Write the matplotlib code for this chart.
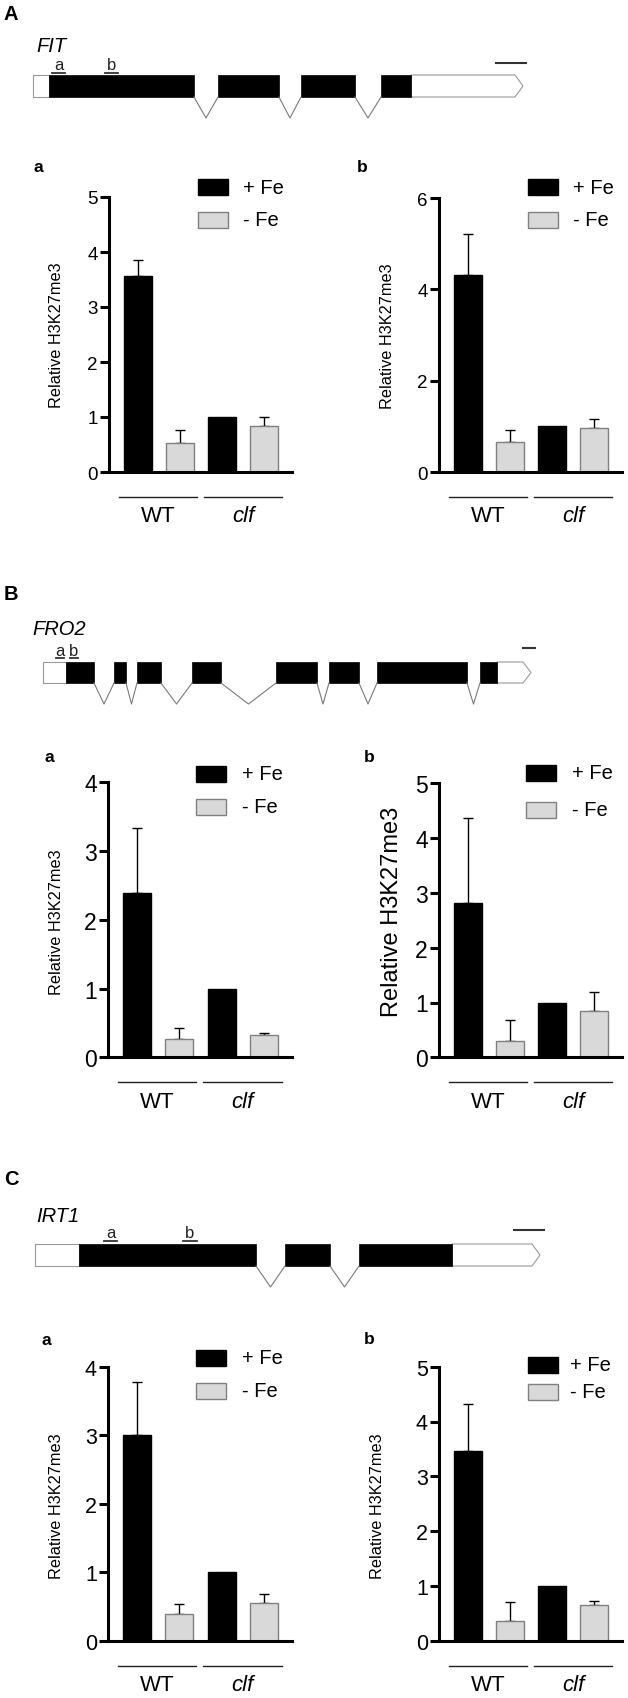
import matplotlib
matplotlib.use("Agg")
import matplotlib.pyplot as plt
from matplotlib.patches import Rectangle, Polygon
from matplotlib import transforms
import numpy as np

plt.rcParams['font.family'] = ['Liberation Sans', 'DejaVu Sans']

W, H = 628, 1699

groups = ['WT', 'clf']
conditions = ['+ Fe', '- Fe']

# relative H3K27me3, order: WT +Fe, WT -Fe, clf +Fe, clf -Fe
fit_a = [3.57, 0.52, 1.0, 0.84]
fit_a_err = [0.28, 0.25, 0.0, 0.16]
fit_b = [4.32, 0.65, 1.0, 0.97]
fit_b_err = [0.89, 0.26, 0.0, 0.20]
fro2_a = [2.39, 0.27, 1.0, 0.32]
fro2_a_err = [0.95, 0.15, 0.0, 0.04]
fro2_b = [2.81, 0.30, 1.0, 0.85]
fro2_b_err = [1.56, 0.38, 0.0, 0.35]
irt1_a = [3.00, 0.39, 1.0, 0.55]
irt1_a_err = [0.78, 0.15, 0.0, 0.13]
irt1_b = [3.46, 0.36, 1.0, 0.65]
irt1_b_err = [0.86, 0.35, 0.0, 0.07]

# gene models (5'UTR, coding exons, 3'UTR, primer a, primer b)
fit_utr5 = (33, 49)
fit_exons = [(49, 194), (218, 279), (301, 355), (381, 411)]
fit_utr3 = (411, 523)
fit_primers = [(52, 65), (105, 118)]

fro2_utr5 = (43, 66)
fro2_exons = [(66, 94), (114, 126), (137, 161), (192, 221), (276, 317),
              (329, 359), (377, 467), (480, 497)]
fro2_utr3 = (497, 531)
fro2_primers = [(56, 64), (70, 78)]

irt1_utr5 = (35, 79)
irt1_exons = [(79, 256), (285, 330), (359, 452)]
irt1_utr3 = (452, 540)
irt1_primers = [(104, 117), (183, 197)]

fig = plt.figure(figsize=(W / 100, H / 100), dpi=100)
ov = fig.add_axes([0, 0, 1, 1])
ov.set_xlim(0, W)
ov.set_ylim(H, 0)
ov.axis('off')

grey_edge = '#9a9a9a'
scale_y_of = {'A': 64, 'B': 649, 'C': 1231}


def draw_gene(letter, ly, name, nx, ny, utr5, exons, utr3, primers, y0, y1, vy, lab_y, ul_y, scale):
    ov.text(4, ly, letter, fontsize=14.5, fontweight='bold', va='center', ha='left')
    ov.text(nx, ny, name, fontsize=14.5, style='italic', va='center', ha='left')
    ov.add_patch(Rectangle((utr5[0], y0), utr5[1] - utr5[0], y1 - y0,
                           fc='white', ec=grey_edge, lw=0.8))
    tip = 8
    ov.add_patch(Polygon([(utr3[0], y0), (utr3[1] - tip, y0), (utr3[1], (y0 + y1) / 2),
                          (utr3[1] - tip, y1), (utr3[0], y1)],
                         closed=True, fc='white', ec=grey_edge, lw=0.8))
    for s, e in exons:
        ov.add_patch(Rectangle((s, y0), e - s, y1 - y0, fc='black', ec='black', lw=0.5))
    for (s0, e0), (s1, e1) in zip(exons[:-1], exons[1:]):
        ov.plot([e0, (e0 + s1) / 2, s1], [y1, vy, y1], color='#7a7a7a', lw=0.8)
    for (s, e), lab in zip(primers, ['a', 'b']):
        ov.plot([s, e], [ul_y, ul_y], color='#333333', lw=1.3)
        ov.text((s + e) / 2, lab_y, lab, fontsize=12, ha='center', va='baseline', color='#222222')
    ov.plot(scale, [scale_y_of[letter]] * 2, color='#333333', lw=1.5)


draw_gene('A', 14, 'FIT', 36, 46, fit_utr5, fit_exons, fit_utr3, fit_primers,
          76, 98, 119, 70.5, 73.5, [496, 526])
draw_gene('B', 595, 'FRO2', 32, 630, fro2_utr5, fro2_exons, fro2_utr3, fro2_primers,
          663, 684, 705, 656, 659, [523, 535])
draw_gene('C', 1180, 'IRT1', 36, 1217, irt1_utr5, irt1_exons, irt1_utr3, irt1_primers,
          1245, 1267, 1288, 1238, 1242, [514, 544])

bar_colors = ['black', '#d9d9d9', 'black', '#d9d9d9']
edge_colors = ['black', '#808080', 'black', '#808080']


def bar_panel(vals, errs, left, right, top, zero, ymax, ystep, tick_fs,
              letter, letter_xy, ylab_xy, ylab_fs, leg_x, leg_y, leg_tx):
    ax = fig.add_axes([left / W, 1 - zero / H, (right - left) / W, (zero - top) / H])
    x = np.arange(len(vals))
    vals = np.array(vals)
    errs = np.array(errs)
    ax.bar(x, vals, width=0.667, color=bar_colors, edgecolor=edge_colors, linewidth=1, zorder=2)
    m = errs > 0
    ax.errorbar(x[m], vals[m], yerr=[np.zeros(m.sum()), errs[m]], fmt='none',
                ecolor='black', elinewidth=1, capsize=3.6, capthick=1, zorder=1)
    ax.set_xlim(-0.69, 3.667)
    ax.set_ylim(0, ymax)
    ticks = np.arange(0, ymax + 0.01, ystep)
    ax.set_yticks(ticks)
    ax.set_yticklabels([str(int(v)) for v in ticks])
    ax.set_xticks([])
    for sp in ['top', 'right']:
        ax.spines[sp].set_visible(False)
    for sp in ['left', 'bottom']:
        ax.spines[sp].set_linewidth(2.2)
    ax.tick_params(axis='y', length=6.5, width=2.2, labelsize=tick_fs, pad=1.5)
    ax.patch.set_alpha(0)

    tr_line = transforms.offset_copy(ax.get_xaxis_transform(), fig=fig, y=-25, units='dots')
    tr_text = transforms.offset_copy(ax.get_xaxis_transform(), fig=fig, y=-44, units='dots')
    for (s, e), g in zip([(-0.45, 1.40), (1.57, 3.43)], groups):
        ax.plot([s, e], [0, 0], transform=tr_line, color='#222222', lw=1, clip_on=False)
        ax.text((s + e) / 2, 0, g, transform=tr_text, ha='center', va='center',
                fontsize=16, style='italic' if g == 'clf' else 'normal')

    ov.text(letter_xy[0], letter_xy[1], letter, fontsize=12.5, fontweight='bold',
            ha='center', va='center')
    ov.text(ylab_xy[0], ylab_xy[1], 'Relative H3K27me3', fontsize=ylab_fs,
            rotation=90, ha='center', va='center')
    for i, (c, ec, lab) in enumerate(zip(['black', '#d9d9d9'], ['black', '#808080'], conditions)):
        by = leg_y[i]
        ov.add_patch(Rectangle((leg_x, by), 30, 16, fc=c, ec=ec, lw=1))
        ov.text(leg_tx, by + 8, lab, fontsize=14.5, ha='left', va='center')
    return ax


bar_panel(fit_a, fit_a_err, 109, 292, 198, 473, 5, 1, 13.5,
          'a', (38, 167), (57, 335.5), 11.7, 198, [180, 213], 243)
bar_panel(fit_b, fit_b_err, 439, 622, 199, 473, 6, 2, 13.5,
          'b', (362, 167), (387, 336), 11.7, 528, [180, 213], 573)
bar_panel(fro2_a, fro2_a_err, 108, 292, 783.3, 1058.3, 4, 1, 16.5,
          'a', (49, 758), (57, 921.7), 11.7, 196, [767, 800], 242)
bar_panel(fro2_b, fro2_b_err, 439, 622, 784.3, 1058.3, 5, 1, 16.5,
          'b', (369, 758), (392, 911.7), 17, 526, [766, 803], 572)
bar_panel(irt1_a, irt1_a_err, 108, 292, 1367.7, 1641.7, 4, 1, 15.5,
          'a', (46, 1341), (57, 1505.7), 11.7, 196, [1351, 1384], 242)
bar_panel(irt1_b, irt1_b_err, 439, 622, 1367.7, 1641.7, 5, 1, 15.5,
          'b', (369, 1340), (377, 1505.7), 11.7, 528, [1358, 1385], 570)

fig.savefig('out.png', dpi=100)
